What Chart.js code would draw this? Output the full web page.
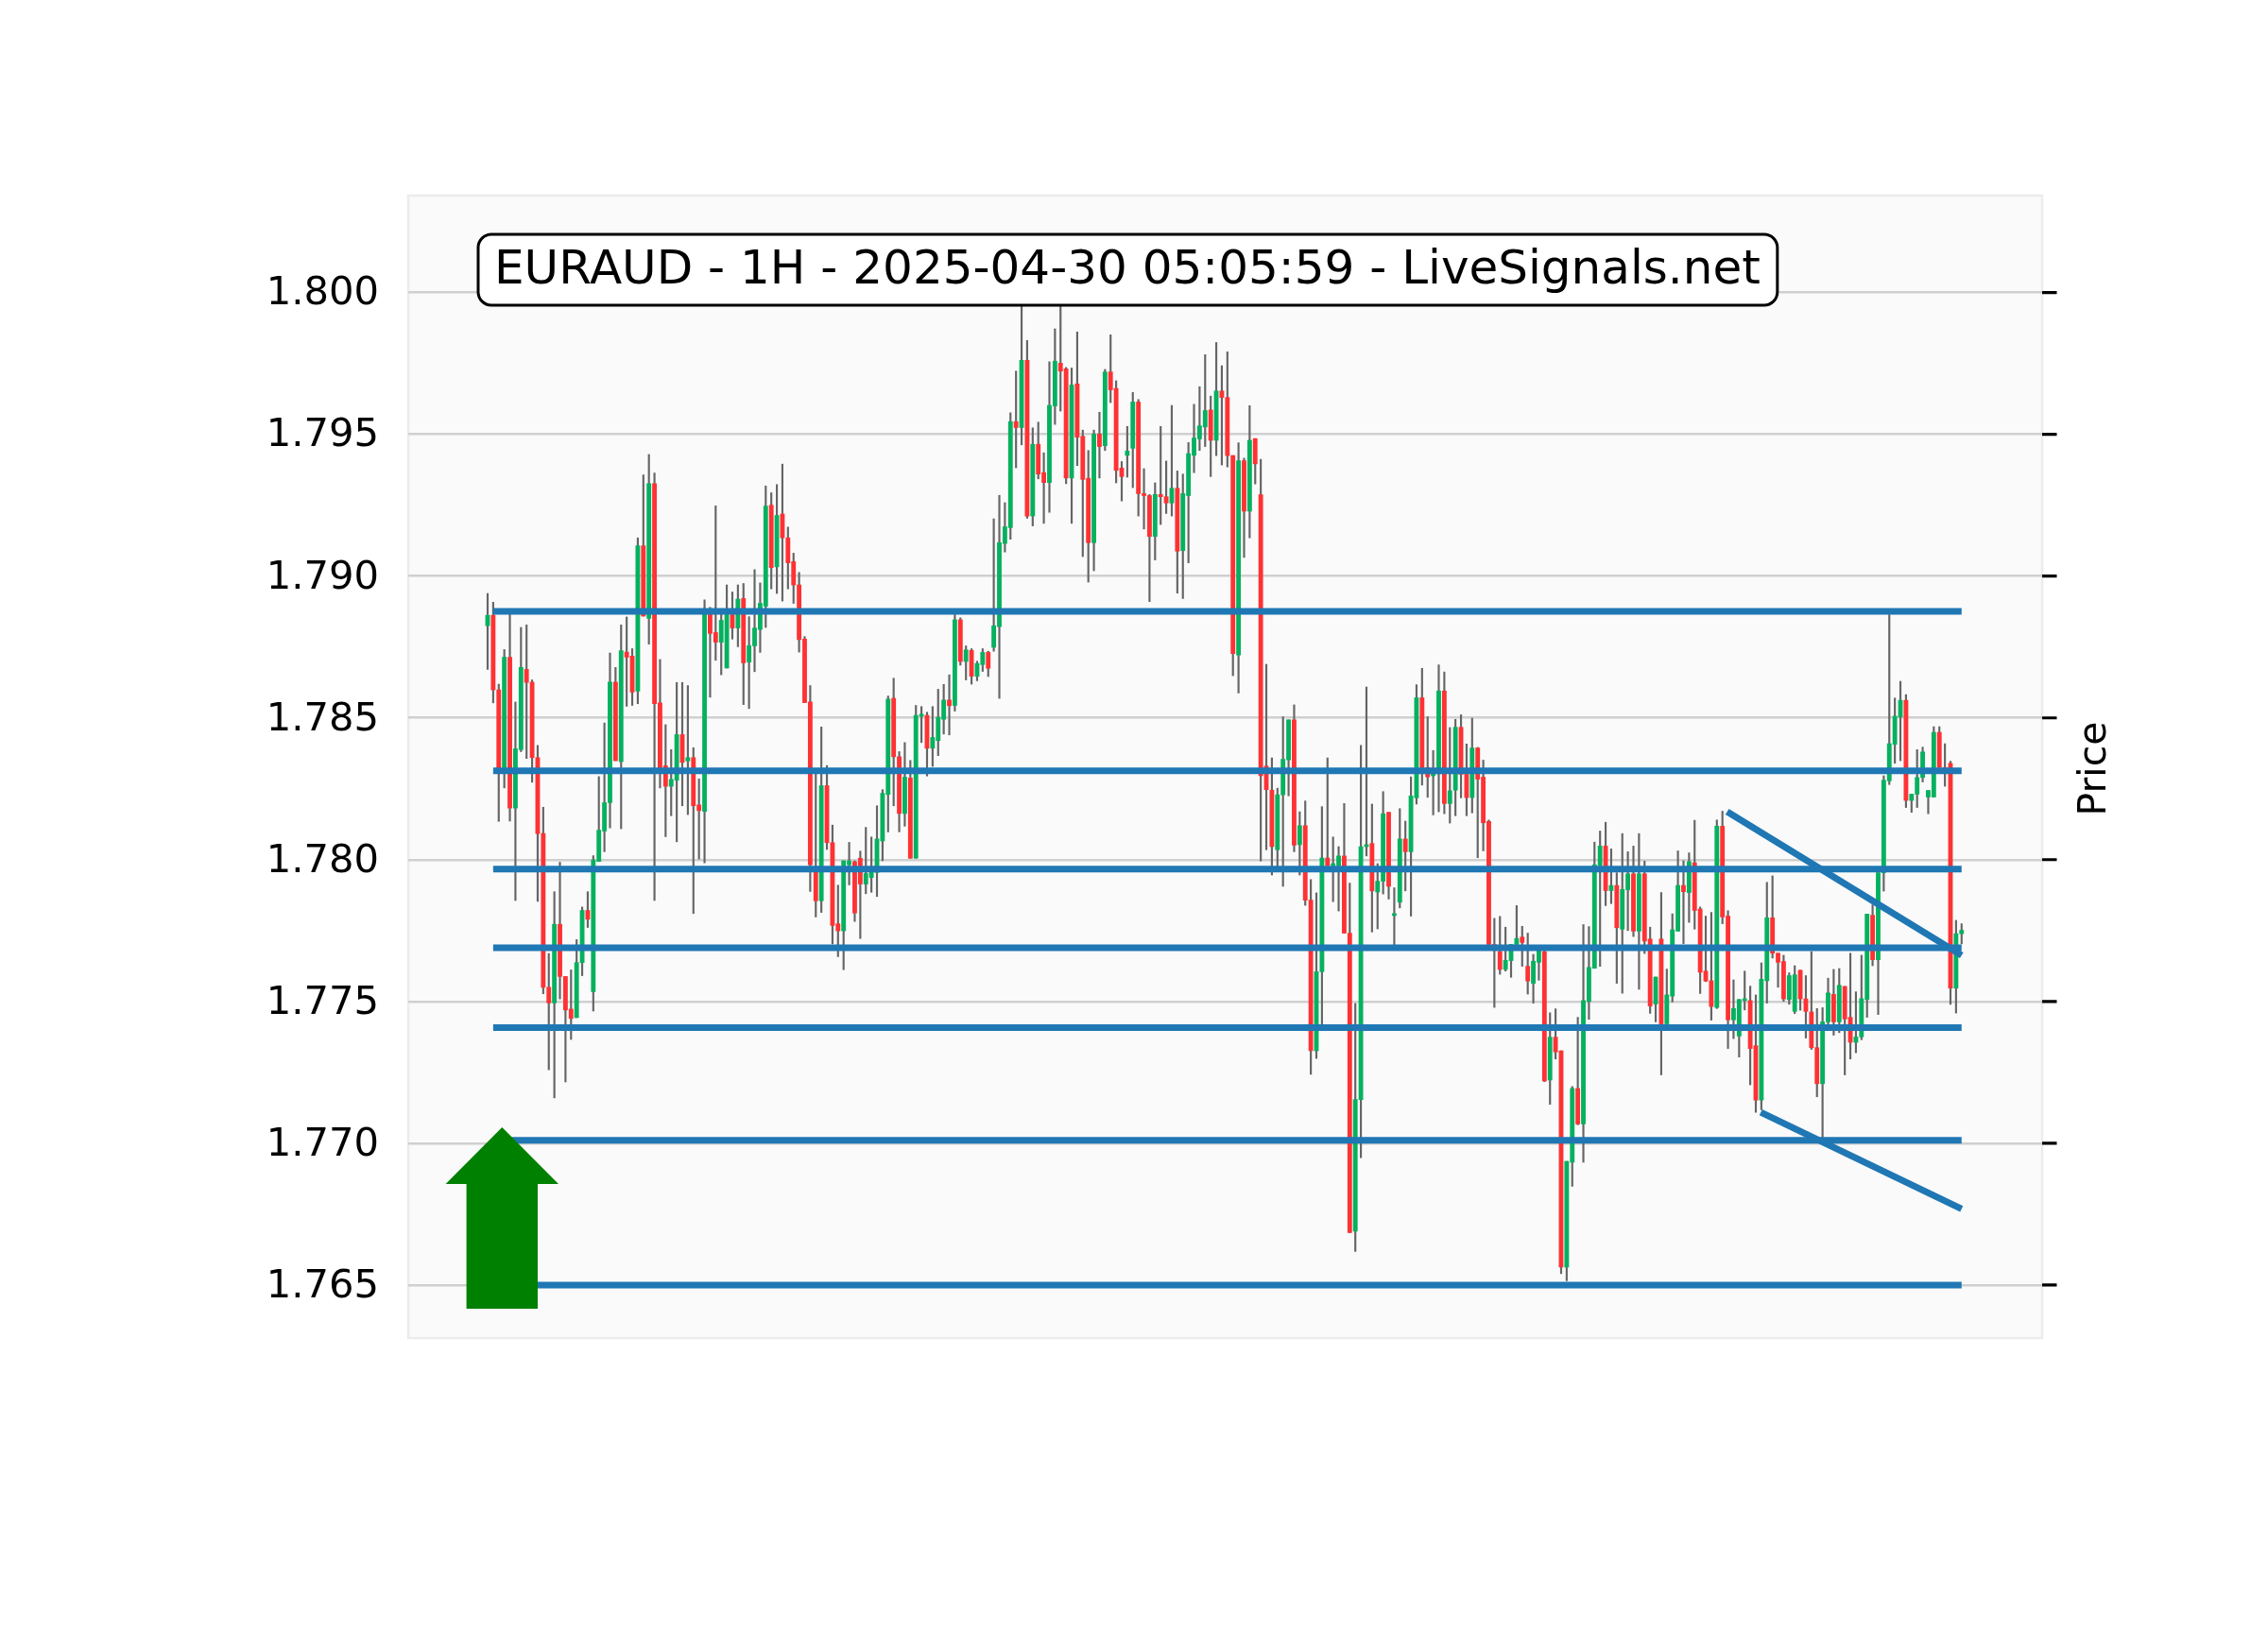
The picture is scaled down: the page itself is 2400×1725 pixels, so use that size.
<!DOCTYPE html>
<html>
<head>
<meta charset="utf-8">
<script src="https://cdn.jsdelivr.net/npm/chart.js@4.4.1/dist/chart.umd.min.js"></script>
<style>
  html, body { margin: 0; padding: 0; background: #fff; }
</style>
</head>
<body>
<canvas id="chart" width="2400" height="1725"></canvas>
<script>
// EURAUD 1H candles (index 0 = oldest)
const opens = [
  1.78825, 1.78862, 1.78599, 1.78316, 1.78714, 1.78182, 1.78388, 1.78671, 1.78626, 1.7836,
  1.78092, 1.7755, 1.77495, 1.77772, 1.77588, 1.77473, 1.77443, 1.77637, 1.77821, 1.77535,
  1.77994, 1.78101, 1.78201, 1.78626, 1.78346, 1.78732, 1.78718, 1.78594, 1.79107, 1.78851,
  1.79326, 1.78553, 1.78331, 1.78259, 1.7828, 1.78441, 1.78348, 1.7836, 1.78193, 1.7817,
  1.78867, 1.78801, 1.78767, 1.78676, 1.78864, 1.78817, 1.78921, 1.78697, 1.78754, 1.78812,
  1.78894, 1.7925, 1.79033, 1.79219, 1.79135, 1.79051, 1.78969, 1.78778, 1.78556, 1.77964,
  1.77855, 1.78261, 1.7806, 1.77774, 1.77749, 1.77982, 1.77993, 1.78005, 1.77914, 1.77937,
  1.77955, 1.78066, 1.7823, 1.78569, 1.78363, 1.78163, 1.78288, 1.78005, 1.78506, 1.78509,
  1.78393, 1.7842, 1.78495, 1.78563, 1.78544, 1.78846, 1.78699, 1.78738, 1.78647, 1.78688,
  1.78731, 1.78749, 1.78822, 1.79115, 1.79171, 1.79545, 1.79524, 1.79761, 1.79212, 1.79465,
  1.79365, 1.7933, 1.796, 1.79751, 1.79731, 1.79346, 1.79678, 1.79493, 1.79345, 1.79118,
  1.79501, 1.7946, 1.7972, 1.79662, 1.79381, 1.79426, 1.79451, 1.79614, 1.79291, 1.79284,
  1.7914, 1.79288, 1.7928, 1.79258, 1.7931, 1.7909, 1.79284, 1.79426, 1.79484, 1.79526,
  1.79586, 1.79479, 1.79653, 1.7963, 1.79425, 1.78722, 1.79407, 1.79229, 1.79485, 1.79287,
  1.7833, 1.78245, 1.78035, 1.78229, 1.78352, 1.78493, 1.78053, 1.7812, 1.77857, 1.77326,
  1.77605, 1.78006, 1.77979, 1.77979, 1.78013, 1.77741, 1.7669, 1.77154, 1.78046, 1.78057,
  1.77886, 1.77924, 1.78167, 1.77803, 1.7785, 1.78073, 1.78028, 1.78218, 1.78571, 1.78325,
  1.78296, 1.78303, 1.78595, 1.78198, 1.78245, 1.78467, 1.78301, 1.78219, 1.78394, 1.78291,
  1.78135, 1.77701, 1.77676, 1.77613, 1.77644, 1.77701, 1.77727, 1.77624, 1.77564, 1.77638,
  1.77676, 1.77223, 1.77374, 1.77326, 1.76563, 1.76933, 1.77193, 1.77068, 1.775, 1.77617,
  1.77979, 1.78048, 1.77891, 1.77909, 1.77755, 1.77894, 1.7795, 1.77748, 1.7795, 1.7772,
  1.77491, 1.7772, 1.77421, 1.77519, 1.77748, 1.77909, 1.77884, 1.77989, 1.77826, 1.77607,
  1.77573, 1.77479, 1.78118, 1.77801, 1.77435, 1.77378, 1.77503, 1.77503, 1.77344, 1.77152,
  1.77573, 1.77795, 1.7767, 1.77641, 1.77507, 1.77465, 1.7761, 1.77509, 1.77463, 1.77337,
  1.7721, 1.77428, 1.77525, 1.77428, 1.77553, 1.77444, 1.77356, 1.77375, 1.77507, 1.77804,
  1.77647, 1.77954, 1.78278, 1.78407, 1.78503, 1.78562, 1.78209, 1.78231, 1.7829, 1.78221,
  1.78221, 1.78449, 1.78325, 1.7834, 1.77547, 1.77739
];
const highs = [
  1.78939, 1.78908, 1.78619, 1.78741, 1.78867, 1.78556, 1.78819, 1.78828, 1.78634, 1.78403,
  1.78185, 1.77669, 1.77887, 1.77991, 1.77588, 1.77611, 1.77718, 1.77833, 1.77887, 1.78014,
  1.78293, 1.78482, 1.78729, 1.78678, 1.78828, 1.78856, 1.78744, 1.79135, 1.79357, 1.79429,
  1.79364, 1.78706, 1.78476, 1.78388, 1.78625, 1.78625, 1.78614, 1.78395, 1.78285, 1.78916,
  1.7889, 1.79248, 1.78867, 1.78969, 1.78944, 1.78969, 1.78974, 1.78857, 1.79023, 1.78976,
  1.79318, 1.79294, 1.79323, 1.79395, 1.79173, 1.79081, 1.79013, 1.78787, 1.78614, 1.78302,
  1.78468, 1.78332, 1.78122, 1.7791, 1.77996, 1.78061, 1.77996, 1.7803, 1.78114, 1.7808,
  1.7819, 1.78247, 1.78577, 1.7864, 1.78381, 1.78413, 1.7835, 1.78544, 1.7854, 1.7852,
  1.7854, 1.78601, 1.78618, 1.78652, 1.78864, 1.78853, 1.78754, 1.78744, 1.787, 1.78744,
  1.78735, 1.79202, 1.79285, 1.79259, 1.79576, 1.79723, 1.7997, 1.79831, 1.79523, 1.79543,
  1.79435, 1.79756, 1.79872, 1.7998, 1.79736, 1.79734, 1.79861, 1.79515, 1.79443, 1.79515,
  1.79578, 1.79729, 1.79851, 1.79689, 1.79404, 1.79528, 1.79648, 1.79623, 1.79379, 1.79288,
  1.79329, 1.79528, 1.79406, 1.79602, 1.79371, 1.7936, 1.79471, 1.79606, 1.79668, 1.79781,
  1.79635, 1.79824, 1.79742, 1.79791, 1.79425, 1.7947, 1.79416, 1.79601, 1.79485, 1.79412,
  1.78689, 1.78359, 1.78252, 1.78504, 1.78493, 1.78546, 1.78169, 1.78207, 1.7793, 1.77883,
  1.78187, 1.78359, 1.7808, 1.78046, 1.78198, 1.77917, 1.77493, 1.78403, 1.78609, 1.78196,
  1.77986, 1.7824, 1.78167, 1.77901, 1.7818, 1.78136, 1.78292, 1.78617, 1.78675, 1.78504,
  1.78385, 1.78687, 1.78662, 1.78466, 1.78495, 1.78511, 1.78408, 1.78499, 1.78396, 1.78351,
  1.7814, 1.77793, 1.778, 1.77762, 1.77701, 1.77838, 1.77765, 1.77741, 1.77666, 1.7769,
  1.7768, 1.7746, 1.77474, 1.77326, 1.76936, 1.772, 1.77444, 1.77771, 1.77764, 1.78062,
  1.78101, 1.78132, 1.78038, 1.77954, 1.78092, 1.78028, 1.78048, 1.78092, 1.77995, 1.77762,
  1.77586, 1.77884, 1.77614, 1.77809, 1.78031, 1.77996, 1.78024, 1.78139, 1.77833, 1.77801,
  1.77814, 1.7814, 1.78171, 1.7782, 1.77576, 1.77507, 1.77607, 1.77554, 1.77523, 1.77636,
  1.7792, 1.77943, 1.7767, 1.77663, 1.77601, 1.77626, 1.7761, 1.77591, 1.77676, 1.77475,
  1.77478, 1.77582, 1.77613, 1.77616, 1.77553, 1.7767, 1.77534, 1.77663, 1.77808, 1.77841,
  1.77954, 1.78296, 1.78864, 1.7857, 1.78629, 1.78582, 1.78231, 1.78388, 1.78397, 1.78244,
  1.78469, 1.78469, 1.78409, 1.78347, 1.77786, 1.77774
];
const lows = [
  1.78671, 1.78553, 1.78135, 1.78253, 1.78136, 1.77856, 1.78381, 1.78357, 1.78273, 1.77853,
  1.77527, 1.77259, 1.7716, 1.77509, 1.77216, 1.77366, 1.77443, 1.77591, 1.77761, 1.77466,
  1.77994, 1.78028, 1.78112, 1.78349, 1.78109, 1.78541, 1.78544, 1.7855, 1.78859, 1.7876,
  1.77856, 1.78253, 1.78081, 1.78155, 1.78063, 1.7819, 1.78159, 1.7781, 1.78002, 1.77989,
  1.78573, 1.78703, 1.78652, 1.78676, 1.78778, 1.78751, 1.78547, 1.78533, 1.78663, 1.78731,
  1.78819, 1.78955, 1.78939, 1.78912, 1.78955, 1.78904, 1.78732, 1.78554, 1.77888, 1.77798,
  1.77814, 1.78036, 1.77703, 1.77658, 1.77612, 1.77911, 1.77782, 1.77722, 1.7788, 1.77885,
  1.7787, 1.77996, 1.78098, 1.7819, 1.78098, 1.78118, 1.78005, 1.78005, 1.78413, 1.78295,
  1.78329, 1.78367, 1.78443, 1.7844, 1.78524, 1.78686, 1.78634, 1.78619, 1.78631, 1.78664,
  1.78646, 1.78735, 1.78569, 1.79085, 1.7913, 1.79382, 1.79463, 1.79204, 1.79177, 1.79343,
  1.79186, 1.79225, 1.79535, 1.79582, 1.79326, 1.79186, 1.7939, 1.79069, 1.78979, 1.79019,
  1.79346, 1.79443, 1.79612, 1.79329, 1.79265, 1.79349, 1.79312, 1.79212, 1.79166, 1.7891,
  1.79057, 1.79182, 1.79221, 1.79212, 1.7894, 1.78921, 1.79047, 1.79365, 1.79443, 1.79457,
  1.79351, 1.79425, 1.79392, 1.79385, 1.78649, 1.78588, 1.79066, 1.79135, 1.79325, 1.77995,
  1.78035, 1.77946, 1.77973, 1.77906, 1.78225, 1.78028, 1.77946, 1.77839, 1.77243, 1.77299,
  1.77417, 1.77979, 1.77852, 1.77819, 1.77741, 1.76685, 1.76618, 1.76949, 1.78013, 1.77745,
  1.77756, 1.77879, 1.77861, 1.777, 1.7783, 1.7789, 1.77801, 1.78196, 1.78263, 1.7822,
  1.78158, 1.78169, 1.78162, 1.78129, 1.78155, 1.78218, 1.78155, 1.78165, 1.78007, 1.78031,
  1.77701, 1.77479, 1.77596, 1.77607, 1.77585, 1.77701, 1.77624, 1.77526, 1.77494, 1.77575,
  1.77217, 1.77137, 1.77297, 1.7654, 1.76515, 1.76848, 1.77065, 1.76933, 1.77437, 1.77617,
  1.77624, 1.77838, 1.77845, 1.77564, 1.77529, 1.7775, 1.77729, 1.77543, 1.77669, 1.77458,
  1.77428, 1.77241, 1.77421, 1.77498, 1.77748, 1.77704, 1.77779, 1.77755, 1.77528, 1.7757,
  1.77434, 1.77475, 1.77774, 1.77334, 1.77369, 1.77304, 1.7747, 1.77206, 1.77109, 1.77118,
  1.77494, 1.77653, 1.7755, 1.775, 1.7749, 1.77457, 1.77469, 1.77371, 1.77331, 1.77164,
  1.77014, 1.77415, 1.77381, 1.7739, 1.77241, 1.77297, 1.77319, 1.77365, 1.77444, 1.77626,
  1.77454, 1.77889, 1.78265, 1.7834, 1.78349, 1.78184, 1.78167, 1.78184, 1.78274, 1.78162,
  1.78221, 1.78325, 1.78259, 1.7749, 1.77459, 1.77703
];
const closes = [
  1.78862, 1.78599, 1.78316, 1.78714, 1.78182, 1.78391, 1.78678, 1.78625, 1.7836, 1.78092,
  1.7755, 1.77495, 1.77772, 1.77588, 1.7747, 1.7744, 1.77637, 1.77821, 1.7779, 1.77999,
  1.78104, 1.78201, 1.78626, 1.78349, 1.78737, 1.78714, 1.78591, 1.79107, 1.78859, 1.79326,
  1.7855, 1.78323, 1.78259, 1.78283, 1.78441, 1.78343, 1.7836, 1.7819, 1.78173, 1.78867,
  1.78798, 1.78767, 1.78844, 1.78864, 1.78817, 1.78919, 1.78694, 1.78755, 1.78817, 1.78904,
  1.79247, 1.7903, 1.79214, 1.79135, 1.79047, 1.78969, 1.78776, 1.78554, 1.77982, 1.77855,
  1.78261, 1.7806, 1.77768, 1.77749, 1.77996, 1.77996, 1.77812, 1.77914, 1.77951, 1.77955,
  1.78073, 1.78234, 1.78566, 1.78363, 1.78163, 1.78291, 1.78005, 1.78509, 1.78513, 1.78393,
  1.78431, 1.78502, 1.78563, 1.78543, 1.78846, 1.78699, 1.7874, 1.78647, 1.78692, 1.78731,
  1.78675, 1.78825, 1.79118, 1.79174, 1.79545, 1.79524, 1.79761, 1.79212, 1.79465, 1.7936,
  1.7933, 1.79602, 1.79758, 1.79723, 1.79346, 1.79674, 1.7949, 1.79341, 1.79118, 1.79501,
  1.79457, 1.7972, 1.79657, 1.79373, 1.79351, 1.79441, 1.79614, 1.79291, 1.79284, 1.7914,
  1.79288, 1.7928, 1.79258, 1.7931, 1.79088, 1.79291, 1.79432, 1.79487, 1.7953, 1.79584,
  1.79479, 1.79653, 1.7963, 1.79425, 1.78727, 1.79407, 1.79229, 1.79479, 1.79396, 1.78296,
  1.78247, 1.78046, 1.78229, 1.78354, 1.78493, 1.78051, 1.7812, 1.77857, 1.77326, 1.77605,
  1.78006, 1.77979, 1.77986, 1.78013, 1.77741, 1.76685, 1.77154, 1.78046, 1.78053, 1.7789,
  1.77924, 1.78162, 1.77906, 1.77807, 1.78073, 1.78028, 1.78225, 1.78571, 1.78325, 1.78292,
  1.78307, 1.78595, 1.78198, 1.78243, 1.78467, 1.78301, 1.78219, 1.78394, 1.78284, 1.7813,
  1.77701, 1.7768, 1.77613, 1.77645, 1.77701, 1.77722, 1.77708, 1.77572, 1.77642, 1.7768,
  1.7722, 1.77374, 1.77322, 1.76563, 1.76936, 1.77193, 1.77068, 1.77503, 1.7762, 1.77982,
  1.78048, 1.77891, 1.77909, 1.7776, 1.77895, 1.7795, 1.77748, 1.7795, 1.77713, 1.77484,
  1.77586, 1.77421, 1.77523, 1.77753, 1.77909, 1.77887, 1.77993, 1.77821, 1.77603, 1.77572,
  1.77482, 1.78118, 1.77798, 1.77435, 1.77475, 1.77507, 1.77507, 1.77334, 1.77152, 1.77578,
  1.77795, 1.7767, 1.77638, 1.77509, 1.77591, 1.77594, 1.77509, 1.77465, 1.77337, 1.7721,
  1.77428, 1.7753, 1.77428, 1.77557, 1.77438, 1.77356, 1.77375, 1.7751, 1.77808, 1.77647,
  1.77954, 1.7828, 1.78409, 1.78506, 1.78562, 1.78209, 1.78231, 1.7829, 1.7838, 1.78244,
  1.78449, 1.78325, 1.78315, 1.77547, 1.77739, 1.77751
];

// support / resistance levels, drawn from candle 1 to the last candle
const levels = [1.78876, 1.78313, 1.77967, 1.77689, 1.77408, 1.77010, 1.76500];
const levelSpan = [1, 265];

// trend lines: [candle index, price] at each end
const trendUpper = [[222.85, 1.78169], [265, 1.77663]];
const trendLower = [[228.9, 1.77109], [265, 1.76768]];

// buy arrow: candle position, then tip, head base and tail prices
const arrowAt = 2.6;
const arrowPrices = [1.77056, 1.76856, 1.76416];

const yTicks = [1.765, 1.770, 1.775, 1.780, 1.785, 1.790, 1.795, 1.800];
const TITLE = "EURAUD - 1H - 2025-04-30 05:05:59 - LiveSignals.net";

const UP = "#05b15f";
const DOWN = "#fe3234";
const WICK = "#656565";
const LEVEL = "#1f77b4";
const FONT = "'DejaVu Sans', 'Noto Sans', sans-serif";

const idx = closes.map((_, i) => i);
const bodyColors = idx.map(i => closes[i] >= opens[i] ? UP : DOWN);

function lineSet(points, width) {
  return {
    type: "line",
    data: points.map(p => ({ x: p[0], y: p[1] })),
    borderColor: LEVEL,
    borderWidth: width,
    pointRadius: 0,
    fill: false,
    tension: 0,
    order: 0,
  };
}

// ---- background, title box, arrow, right-hand ticks ----
const decor = {
  id: "decor",
  beforeDraw(chart) {
    const { ctx, chartArea: a } = chart;
    ctx.save();
    ctx.fillStyle = "#ffffff";
    ctx.fillRect(0, 0, chart.width, chart.height);
    ctx.fillStyle = "#fafafa";
    ctx.fillRect(a.left, a.top, a.right - a.left, a.bottom - a.top);
    ctx.strokeStyle = "#ececec";
    ctx.lineWidth = 2.5;
    ctx.strokeRect(a.left, a.top, a.right - a.left, a.bottom - a.top);
    ctx.restore();
  },
  afterDatasetsDraw(chart) {
    const { ctx } = chart;
    const xs = chart.scales.x, ys = chart.scales.y;

    // buy arrow
    const cx = xs.getPixelForValue(arrowAt);
    const [tip, base, tail] = arrowPrices.map(p => ys.getPixelForValue(p));
    const head = 59.7, shaft = 37.7;
    ctx.save();
    ctx.fillStyle = "#008000";
    ctx.beginPath();
    ctx.moveTo(cx, tip);
    ctx.lineTo(cx + head, base);
    ctx.lineTo(cx + shaft, base);
    ctx.lineTo(cx + shaft, tail);
    ctx.lineTo(cx - shaft, tail);
    ctx.lineTo(cx - shaft, base);
    ctx.lineTo(cx - head, base);
    ctx.closePath();
    ctx.fill();

    // title in a rounded box
    ctx.font = "50px " + FONT;
    const tw = ctx.measureText(TITLE).width;
    const tx = 523, base0 = 300;
    const bx = tx - 17, by = 248, bw = tw + 35, bh = 75, r = 14;
    ctx.beginPath();
    ctx.moveTo(bx + r, by);
    ctx.arcTo(bx + bw, by, bx + bw, by + bh, r);
    ctx.arcTo(bx + bw, by + bh, bx, by + bh, r);
    ctx.arcTo(bx, by + bh, bx, by, r);
    ctx.arcTo(bx, by, bx + bw, by, r);
    ctx.closePath();
    ctx.fillStyle = "#ffffff";
    ctx.fill();
    ctx.lineWidth = 3;
    ctx.strokeStyle = "#000000";
    ctx.stroke();
    ctx.fillStyle = "#000000";
    ctx.textBaseline = "alphabetic";
    ctx.textAlign = "left";
    ctx.fillText(TITLE, tx, base0);
    ctx.restore();
  },
  afterDraw(chart) {
    const { ctx, chartArea: a } = chart;
    const ys = chart.scales.y;
    ctx.save();
    ctx.strokeStyle = "#000000";
    ctx.lineWidth = 3.2;
    ctx.beginPath();
    yTicks.forEach(v => {
      const y = ys.getPixelForValue(v);
      ctx.moveTo(a.right, y);
      ctx.lineTo(a.right + 15.5, y);
    });
    ctx.stroke();

    ctx.translate(2228, (a.top + a.bottom) / 2 + 2);
    ctx.rotate(-Math.PI / 2);
    ctx.font = "41px " + FONT;
    ctx.fillStyle = "#000000";
    ctx.textAlign = "center";
    ctx.textBaseline = "alphabetic";
    ctx.fillText("Price", 0, 0);
    ctx.restore();
  },
};

new Chart(document.getElementById("chart").getContext("2d"), {
  type: "bar",
  data: {
    datasets: [
      ...levels.map(v => lineSet([[levelSpan[0], v], [levelSpan[1], v]], 7)),
      lineSet(trendUpper, 7),
      lineSet(trendLower, 7),
      {
        label: "body",
        data: idx.map(i => ({ x: i, y: [opens[i], closes[i]] })),
        backgroundColor: bodyColors,
        borderWidth: 0,
        barThickness: 4.2,
        minBarLength: 2,
        grouped: false,
        order: 1,
      },
      {
        label: "wick",
        data: idx.map(i => ({
          x: i,
          y: [Math.min(lows[i], opens[i], closes[i]), Math.max(highs[i], opens[i], closes[i])],
        })),
        backgroundColor: WICK,
        borderWidth: 0,
        barThickness: 1.5,
        grouped: false,
        order: 2,
      },
    ],
  },
  options: {
    responsive: false,
    animation: false,
    devicePixelRatio: 1,
    events: [],
    layout: { padding: { left: 0, top: 207, right: 239, bottom: 309 } },
    plugins: { legend: { display: false }, tooltip: { enabled: false } },
    scales: {
      x: {
        type: "linear",
        min: -14.27,
        max: 279.48,
        offset: false,
        display: false,
      },
      y: {
        type: "linear",
        position: "left",
        min: 1.76313,
        max: 1.80342,
        afterBuildTicks: s => { s.ticks = yTicks.map(v => ({ value: v })); },
        afterFit: s => { s.width = 432; },
        border: { display: false },
        grid: { color: "#d0d0d0", lineWidth: 2.5, drawTicks: false },
        ticks: {
          padding: 31,
          labelOffset: 2,
          color: "#000000",
          font: { family: FONT, size: 41.7 },
          callback: v => Number(v).toFixed(3),
        },
      },
    },
  },
  plugins: [decor],
});
</script>
</body>
</html>
